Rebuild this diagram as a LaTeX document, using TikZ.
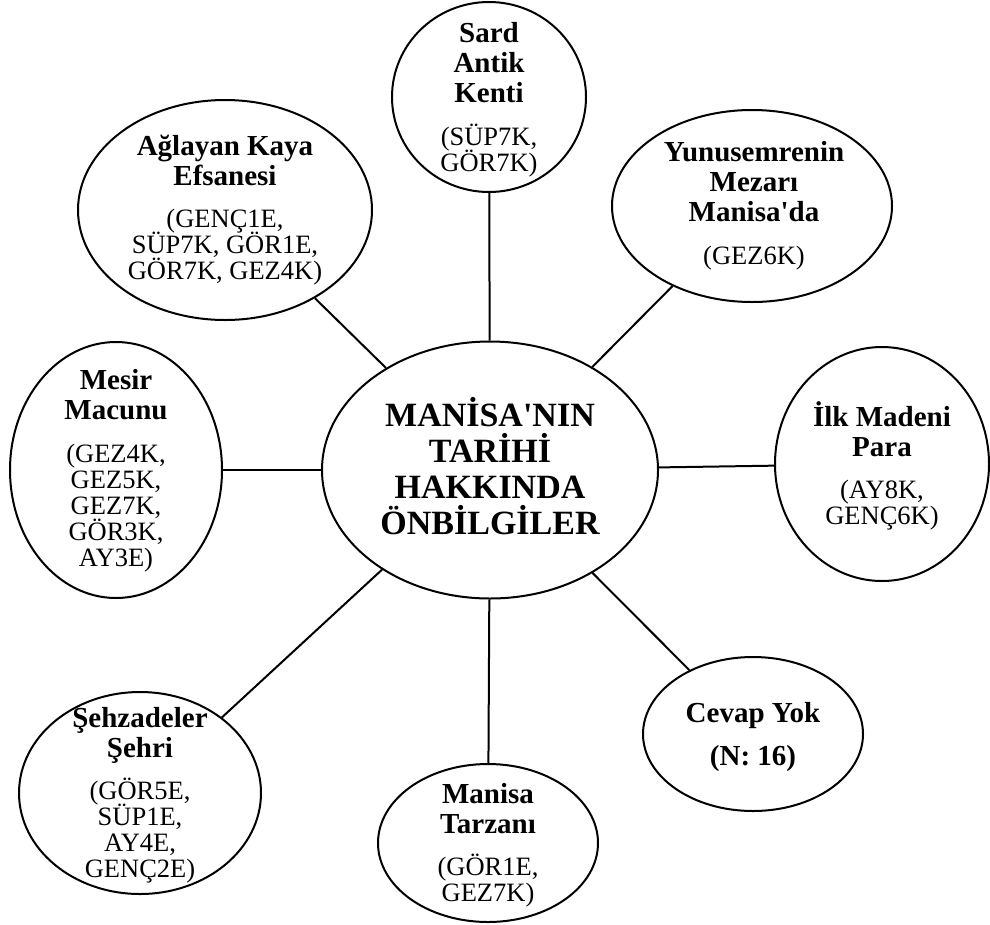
\documentclass[tikz,border=0pt]{standalone}
\usepackage{fontspec}
\setmainfont{Liberation Serif}
\usetikzlibrary{shapes.geometric}
\newcommand\hdf{\fontsize{29}{29}\selectfont\bfseries}
\newcommand\cdf{\fontsize{26.5}{26}\selectfont}
\newcommand\apos{\textquotesingle}
\newcommand\lsk{\lineskiplimit=-100pt\relax}
\newcommand\basefont{\fontsize{26.5}{26}\selectfont\lsk}
\newcommand\titlefont{\fontsize{34}{36}\selectfont\bfseries\lsk}
\begin{document}
\begin{tikzpicture}[x=1pt,y=-1pt,
  bub/.style={ellipse, draw, line width=2pt, inner sep=0pt},
  txt/.style={align=center, inner sep=0pt, font=\basefont},
  link/.style={line width=2pt}]
\useasboundingbox (0,0) rectangle (990,924);
% ellipses
\node[bub, minimum width=336pt, minimum height=257pt] (main) at (490,470) {};
\node[bub, minimum width=194pt, minimum height=190pt] (sard) at (489,97) {};
\node[bub, minimum width=294pt, minimum height=220pt] (agl) at (225,210) {};
\node[bub, minimum width=280pt, minimum height=192pt] (yun) at (752,206) {};
\node[bub, minimum width=212pt, minimum height=256pt] (mesir) at (116,470) {};
\node[bub, minimum width=214pt, minimum height=234pt] (ilk) at (882,464) {};
\node[bub, minimum width=242pt, minimum height=202pt] (seh) at (140,793) {};
\node[bub, minimum width=220pt, minimum height=158pt] (tarz) at (488,843) {};
\node[bub, minimum width=220pt, minimum height=154pt] (cevap) at (753,734) {};
% connectors
\draw[link] (main) -- (sard);
\draw[link] (main) -- (agl);
\draw[link] (main) -- (yun);
\draw[link] (main) -- (mesir);
\draw[link] (main) -- (ilk);
\draw[link] (main) -- (seh);
\draw[link] (main) -- (tarz);
\draw[link] (main) -- (cevap);
% texts
\node[txt, font=\titlefont] (maint) at (490,466)
  {MANİSA\apos NIN\\TARİHİ\\HAKKINDA\\ÖNBİLGİLER};
\node[txt] (sardt) at (489,100)
  {\hdf Sard\\[4pt]\hdf Antik\\[4pt]\hdf Kenti\\[16.5pt]\cdf (SÜP7K,\\\cdf GÖR7K)};
\node[txt] (aglt) at (225,210)
  {\hdf Ağlayan Kaya\\[4pt]\hdf Efsanesi\\[16.5pt]\cdf (GENÇ1E,\\\cdf SÜP7K, GÖR1E,\\\cdf GÖR7K, GEZ4K)};
\node[txt] (yunt) at (754,206)
  {\hdf Yunusemrenin\\[4pt]\hdf Mezarı\\[4pt]\hdf Manisa\apos da\\[16.5pt]\cdf (GEZ6K)};
\node[txt] (mesirt) at (116,471)
  {\hdf Mesir\\[4pt]\hdf Macunu\\[16.5pt]\cdf (GEZ4K,\\\cdf GEZ5K,\\\cdf GEZ7K,\\\cdf GÖR3K,\\\cdf AY3E)};
\node[txt] (ilkt) at (882,466)
  {\hdf İlk Madeni\\[4pt]\hdf Para\\[16.5pt]\cdf (AY8K,\\\cdf GENÇ6K)};
\node[txt] (seht) at (140,795)
  {\hdf Şehzadeler\\[4pt]\hdf Şehri\\[16.5pt]\cdf (GÖR5E,\\\cdf SÜP1E,\\\cdf AY4E,\\\cdf GENÇ2E)};
\node[txt] (tarzt) at (488,845)
  {\hdf Manisa\\[4pt]\hdf Tarzanı\\[16.5pt]\cdf (GÖR1E,\\\cdf GEZ7K)};
\node[txt] (cevapt) at (753,737)
  {\hdf Cevap Yok\\[17pt]\hdf (N: 16)};
\end{tikzpicture}
\end{document}
